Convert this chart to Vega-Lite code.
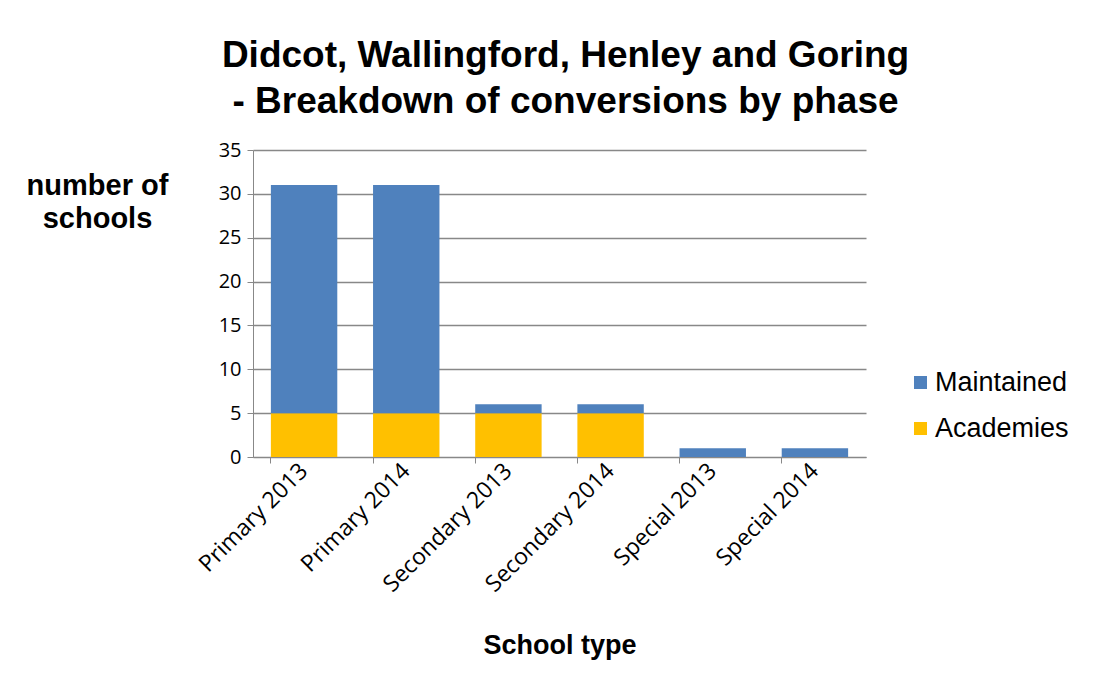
{
  "$schema": "https://vega.github.io/schema/vega-lite/v6.json",
  "width": 613,
  "height": 307,
  "autosize": {"type": "none"},
  "padding": {"left": 253, "top": 150, "right": 228, "bottom": 226},
  "background": "white",
  "title": {
    "text": ["Didcot, Wallingford, Henley and Goring", "- Breakdown of conversions by phase"],
    "font": "Liberation Sans",
    "fontSize": 37,
    "fontWeight": "bold",
    "color": "#000000",
    "anchor": "middle",
    "lineHeight": 46,
    "offset": 19,
    "dx": 6
  },
  "data": {
    "values": [
      {"type": "Primary 2013", "series": "Academies", "count": 5, "ord": 1},
      {"type": "Primary 2013", "series": "Maintained", "count": 26, "ord": 2},
      {"type": "Primary 2014", "series": "Academies", "count": 5, "ord": 1},
      {"type": "Primary 2014", "series": "Maintained", "count": 26, "ord": 2},
      {"type": "Secondary 2013", "series": "Academies", "count": 5, "ord": 1},
      {"type": "Secondary 2013", "series": "Maintained", "count": 1, "ord": 2},
      {"type": "Secondary 2014", "series": "Academies", "count": 5, "ord": 1},
      {"type": "Secondary 2014", "series": "Maintained", "count": 1, "ord": 2},
      {"type": "Special 2013", "series": "Academies", "count": 0, "ord": 1},
      {"type": "Special 2013", "series": "Maintained", "count": 1, "ord": 2},
      {"type": "Special 2014", "series": "Academies", "count": 0, "ord": 1},
      {"type": "Special 2014", "series": "Maintained", "count": 1, "ord": 2}
    ]
  },
  "mark": {"type": "bar"},
  "encoding": {
    "x": {
      "field": "type",
      "type": "nominal",
      "sort": null,
      "scale": {"paddingInner": 0.35, "paddingOuter": 0.175},
      "axis": {
        "title": "School type",
        "titleFont": "Liberation Sans",
        "titleFontSize": 27,
        "titleFontWeight": "bold",
        "titleColor": "#000000",
        "titlePadding": 36,
        "labelAngle": -45,
        "labelAlign": "right",
        "labelBaseline": "middle",
        "labelFont": "Open Sans",
        "labelFontSize": 23,
        "labelColor": "#000000",
        "labelPadding": 4,
        "domainColor": "#888888",
        "tickColor": "#888888",
        "tickSize": 6,
        "bandPosition": 0
      }
    },
    "y": {
      "field": "count",
      "type": "quantitative",
      "stack": "zero",
      "scale": {"domain": [0, 35]},
      "axis": {
        "title": ["number of", "schools"],
        "titleFont": "Liberation Sans",
        "titleFontSize": 29,
        "titleFontWeight": "bold",
        "titleColor": "#000000",
        "titleAngle": 0,
        "titleAlign": "center",
        "titleBaseline": "top",
        "titleX": -156,
        "titleY": 21,
        "titleLineHeight": 33,
        "values": [0, 5, 10, 15, 20, 25, 30, 35],
        "labelFont": "Open Sans",
        "labelFontSize": 20,
        "labelColor": "#000000",
        "labelPadding": 6,
        "gridColor": "#888888",
        "gridWidth": 1.5,
        "domainColor": "#888888",
        "tickColor": "#888888",
        "tickSize": 6
      }
    },
    "color": {
      "field": "series",
      "type": "nominal",
      "scale": {"domain": ["Maintained", "Academies"], "range": ["#4F81BD", "#FFC000"]},
      "legend": {
        "title": null,
        "orient": "none",
        "legendX": 654,
        "legendY": 219,
        "symbolType": "square",
        "symbolSize": 170,
        "symbolStrokeWidth": 0,
        "labelFont": "Liberation Sans",
        "labelFontSize": 27,
        "labelColor": "#000000",
        "rowPadding": 18,
        "labelOffset": 1
      }
    },
    "order": {"field": "ord", "type": "quantitative"}
  },
  "config": {
    "view": {"stroke": null}
  }
}
